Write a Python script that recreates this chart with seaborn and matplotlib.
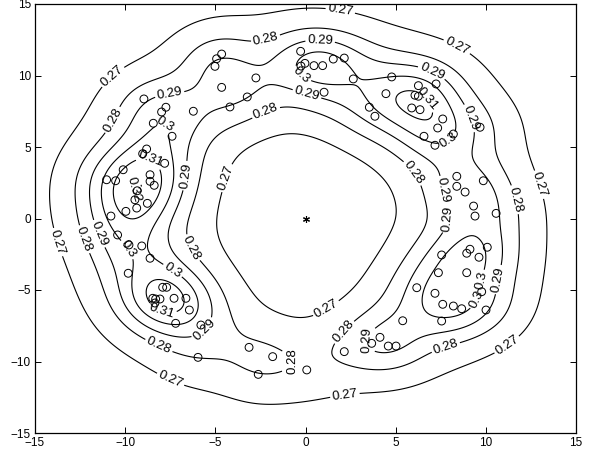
import numpy as np
import pandas as pd
import seaborn as sns
import matplotlib
matplotlib.use("Agg")
import matplotlib.pyplot as plt

# Sample locations (open circles)
pt_x = [-4.65, -4.93, -5.02, -0.27, -0.25, -2.75, -4.65, -3.23, -4.19, -6.22,
        -8.96, -7.74, -7.98, -8.44, -7.40, -8.81, -9.03, -7.81, -10.11, -11.03,
        -10.53, -8.62, -8.62, -8.39, -9.33, -9.46, -8.77, -9.36, -9.96, -10.79,
        -10.42, -9.79, -9.08, -8.62, -9.83, -7.92, -7.70, -8.47, -8.31, -8.07,
        -8.35, -7.29, -6.63, -6.44, -7.20, -5.80, -3.13, -5.96, -1.82, -2.62,
        0.07, -0.03, 0.47, 0.95, 1.54, 2.15, 2.65, 4.78, 1.03, 4.46,
        6.26, 7.24, 6.07, 6.26, 5.89, 6.35, 3.54, 3.85, 7.61, 7.33,
        6.57, 7.18, 8.20, 9.68, 8.39, 8.39, 8.85, 9.86, 9.32, 9.40,
        10.57, 7.55, 9.12, 8.94, 9.62, 10.08, 7.37, 8.94, 6.17, 7.18,
        9.77, 7.61, 8.20, 8.66, 10.01, 7.55, 5.39, 4.13, 3.67, 4.59,
        5.02, 2.15]
pt_y = [11.50, 11.17, 10.64, 11.69, 10.66, 9.83, 9.17, 8.50, 7.80, 7.50,
        8.36, 7.78, 7.45, 6.66, 5.75, 4.86, 4.53, 3.86, 3.41, 2.71,
        2.64, 3.06, 2.60, 2.32, 1.94, 1.31, 1.06, 0.73, 0.50, 0.17,
        -1.15, -1.85, -1.92, -2.78, -3.83, -4.81, -4.81, -5.58, -5.63, -5.63,
        -5.91, -5.58, -5.58, -6.40, -7.33, -7.45, -9.01, -9.71, -9.66, -10.90,
        -10.59, 10.85, 10.69, 10.69, 11.15, 11.22, 9.76, 9.90, 8.83, 8.73,
        9.29, 9.41, 8.62, 8.55, 7.73, 7.61, 7.78, 7.15, 6.96, 6.33,
        5.75, 5.12, 5.91, 6.38, 2.95, 2.25, 1.85, 2.64, 0.87, 0.17,
        0.36, -2.55, -2.15, -2.43, -2.71, -2.01, -3.79, -3.79, -4.84, -5.23,
        -5.12, -6.00, -6.12, -6.31, -6.40, -7.17, -7.15, -8.31, -8.73, -8.92,
        -8.92, -9.31]

# Centre marker
center_x = [0.0]
center_y = [0.0]

# Contour levels
levels = [0.27, 0.28, 0.29, 0.30, 0.31, 0.32]

# Contour labels (position on the line and its value)
label_x = [1.9, -11.1, -13.6, -7.5, 2.2, 11.1, 13.3, 8.3, -4.3, 1.1,
           -2.2, -10.7, -12.8, -8.1, 7.7, 11.9, 7.1, -2.2, -6.5, 6.2, 2.0, -0.1,
           0.8, -7.5, -11.7, 9.1, 10.8, 3.3, -5.6, -6.7, 0.1, 7.35,
           -7.3, -10.0, -7.4, 7.9, 8.7, 9.6, -0.1,
           -8.5, -7.9, 6.4, 8.9,
           -10.0]
label_y = [14.3, 10.5, -1.6, -11.3, -12.5, -8.7, 2.5, 11.8, 2.8, -6.2,
           12.5, 6.9, -1.7, -8.8, -8.7, 1.4, 10.5, 7.45, -2.2, 3.4, -7.8, -10.0,
           12.1, 8.4, -1.2, 7.0, -4.3, -8.5, -7.8, 3.0, 8.8, 1.9,
           7.2, -2.3, -3.7, 5.5, -0.1, -5.7, 10.2,
           4.5, -6.3, 8.0, -4.1,
           1.76]
label_level = [0.27] * 10 + [0.28] * 12 + [0.29] * 10 + [0.30] * 7 + [0.31] * 4 + [0.32]

# Further points on the inner 0.27 line
extra_x = [0.0, 0.0, -5.0, 5.24]
extra_y = [5.84, -6.96, 0.0, 0.0]
extra_level = [0.27, 0.27, 0.27, 0.27]

tick_values = [-15, -10, -5, 0, 5, 10, 15]

sns.set_theme(style="white")
plt.rcParams["font.family"] = ["Liberation Sans", "DejaVu Sans"]
plt.rcParams.update({
    "xtick.direction": "in", "ytick.direction": "in",
    "xtick.top": True, "ytick.right": True,
    "xtick.bottom": True, "ytick.left": True,
    "xtick.major.size": 4.5, "ytick.major.size": 4.5,
    "xtick.major.width": 0.7, "ytick.major.width": 0.7,
    "axes.linewidth": 0.9, "axes.edgecolor": "black",
})

fig = plt.figure(figsize=(5.89, 4.5), dpi=100)
ax = fig.add_axes([35 / 589, 1 - 433 / 450, 541 / 589, 429 / 450])

px = np.array(pt_x)
py = np.array(pt_y)
widths = [1.5, 3.0, 5.0]


def bases(x, y):
    x = np.asarray(x, dtype=float)[..., None]
    y = np.asarray(y, dtype=float)[..., None]
    d2 = (x - px) ** 2 + (y - py) ** 2
    cols = [np.ones(x.shape[:-1])]
    for w in widths:
        cols.append(np.exp(-d2 / (2 * w ** 2)).sum(axis=-1))
    return np.stack(cols, axis=-1)


ax_all = np.array(label_x + extra_x)
ay_all = np.array(label_y + extra_y)
al_all = np.array(label_level + extra_level)
coef, *_ = np.linalg.lstsq(bases(ax_all, ay_all), al_all, rcond=None)

gx = np.linspace(-15, 15, 301)
gy = np.linspace(-15, 15, 301)
GX, GY = np.meshgrid(gx, gy)
Z = bases(GX, GY) @ coef

zmax = float(Z.max())
draw_levels = [l for l in levels if l < zmax]
cs = ax.contour(GX, GY, Z, levels=draw_levels, colors="black", linewidths=0.8)
positions = [(x, y) for x, y, l in zip(label_x, label_y, label_level) if l < zmax]
ax.clabel(cs, manual=positions, fmt="%g", fontsize=9.5, inline=True,
          inline_spacing=2)

sns.scatterplot(x=pt_x, y=pt_y, ax=ax, marker="o", s=32,
                facecolor="none", edgecolor="black", linewidth=0.7, zorder=3)
ax.plot(center_x, center_y, linestyle="none", marker=(6, 2, 0), markersize=5,
        color="black", markeredgewidth=0.8)

ax.set_xlim(-15, 15)
ax.set_ylim(-15, 15)
ax.set_xticks(tick_values)
ax.set_yticks(tick_values)
ax.tick_params(labelsize=8.5, colors="black", pad=3)
for s in ax.spines.values():
    s.set_visible(True)
    s.set_color("black")

fig.savefig("out.png", dpi=100)
